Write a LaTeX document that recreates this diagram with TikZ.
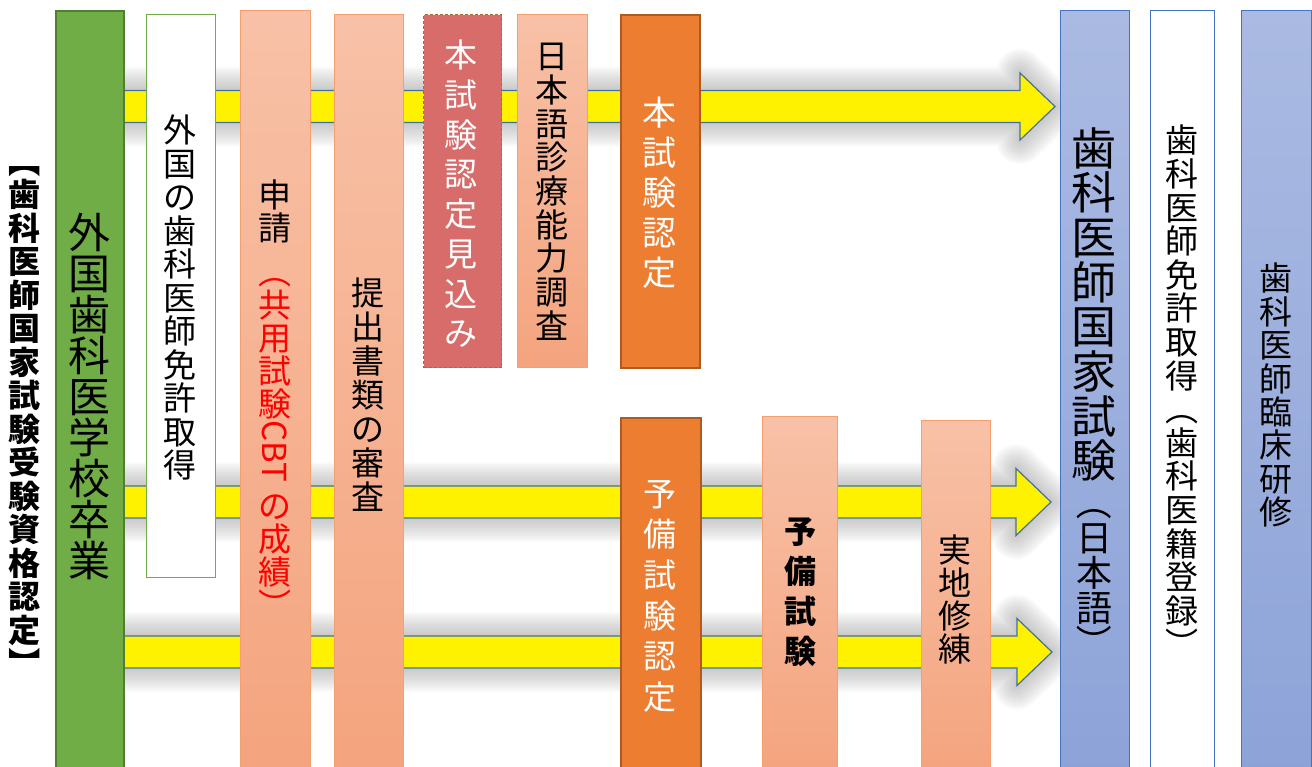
\documentclass[tikz,border=0pt]{standalone}
\usepackage{fontspec}
\newfontfamily\jp{Noto Sans CJK JP}
\usetikzlibrary{positioning,calc}

\definecolor{grnfill}{HTML}{70AD47}
\definecolor{grnline}{HTML}{507E32}
\definecolor{salmtop}{HTML}{F8C1A7}
\definecolor{salmbot}{HTML}{F4A47E}
\definecolor{salmline}{HTML}{F4A06E}
\definecolor{redfill}{HTML}{D86C6A}
\definecolor{redline}{HTML}{B5652F}
\definecolor{orfill}{HTML}{ED7D31}
\definecolor{orline}{HTML}{AE5A21}
\definecolor{bltop}{HTML}{AABAE2}
\definecolor{blbot}{HTML}{8DA3D8}
\definecolor{blline}{HTML}{4472C4}
\definecolor{arrline}{HTML}{41719C}

\newcommand{\vfont}[2]{\jp\fontsize{#1}{#2}\selectfont}
% bracket turned for vertical text
\newcommand{\vp}[1]{\rotatebox[origin=c]{-90}{#1}}
% block arrow from #1 to tip #2
\newcommand{\blockarrow}[2]{($(#1)+(0,-16)$) -- ($(#2)+(-35,-16)$) -- ($(#2)+(-35,-33.5)$)
  -- (#2) -- ($(#2)+(-35,33.5)$) -- ($(#2)+(-35,16)$) -- ($(#1)+(0,16)$) -- cycle}

\tikzset{
  box/.style={rectangle, inner sep=0, anchor=north west, line width=1.2},
  grnbox/.style={box, fill=grnfill, draw=grnline, line width=1.5},
  whtbox/.style={box, fill=white, draw=#1},
  salbox/.style={box, top color=salmtop, bottom color=salmbot, draw=salmline},
  redbox/.style={box, fill=redfill, draw=redline, dash pattern=on 3pt off 2pt},
  orbox/.style={box, fill=orfill, draw=orline, line width=1.5},
  blbox/.style={box, top color=bltop, bottom color=blbot, draw=blline},
  vt/.style={inner sep=0, anchor=north, align=center},
  yarrow/.style={fill=yellow, draw=arrline, line width=1.2, line join=miter},
  glow/.style={draw=gray, opacity=0.045, line join=round}
}

\begin{document}
\begin{tikzpicture}[x=1pt,y=-1pt]
\clip (0,0) rectangle (1312,766);

% arrows with soft shadow
\coordinate (a1s) at (89,106.5);
\coordinate (a1e) at (1055,106.5);
\coordinate (a2s) at (89,502);
\coordinate (a2e) at (1051,502);
\coordinate (a3s) at (89,652);
\coordinate (a3e) at (1052,652);
\foreach \w in {4,8,...,48}{
  \draw[glow, line width=\w] \blockarrow{a1s}{a1e};
  \draw[glow, line width=\w] \blockarrow{a2s}{a2e};
  \draw[glow, line width=\w] \blockarrow{a3s}{a3e};
}
\draw[yarrow] \blockarrow{a1s}{a1e};
\draw[yarrow] \blockarrow{a2s}{a2e};
\draw[yarrow] \blockarrow{a3s}{a3e};

% columns
\node[grnbox, minimum width=68, minimum height=765] (gradbox) at (55,10) {};
\node[whtbox=grnfill, minimum width=69, minimum height=563] (licbox) at (146,14) {};
\node[salbox, minimum width=70, minimum height=765] (appbox) at (240,10) {};
\node[salbox, minimum width=69, minimum height=761] (docbox) at (334,14) {};
\node[redbox, minimum width=78, minimum height=353] (expbox) at (423,14) {};
\node[salbox, minimum width=70, minimum height=353] (jltbox) at (517,14) {};
\node[orbox, minimum width=79, minimum height=353] (certbox) at (620,14) {};
\node[orbox, minimum width=80, minimum height=358] (pcertbox) at (620,417) {};
\node[salbox, minimum width=75, minimum height=359] (prelbox) at (762,416) {};
\node[salbox, minimum width=69, minimum height=355] (intbox) at (921,420) {};
\node[blbox, minimum width=69, minimum height=765] (natlbox) at (1060,10) {};
\node[whtbox=blline, minimum width=64, minimum height=765] (regbox) at (1150,10) {};
\node[blbox, minimum width=70, minimum height=765] (trainbox) at (1241,10) {};

% texts
\node[vt, font=\vfont{32}{33.5}\bfseries] (lab) at (25,145)
  {\vp{【}\\歯\\科\\医\\師\\国\\家\\試\\験\\受\\験\\資\\格\\認\\定\\\vp{】}};
\node[vt, font=\vfont{42}{41}] (grad) at (89,213) {外\\国\\歯\\科\\医\\学\\校\\卒\\業};
\node[vt, font=\vfont{33}{33.5}] (lic) at (180,115) {外\\国\\の\\歯\\科\\医\\師\\免\\許\\取\\得};
\node[vt, font=\vfont{33}{33}] (app) at (275,180) {申\\請};
\node[vt, font=\vfont{33}{33}, text=red, below=12pt of app] (cbt)
  {\vp{（}\\共\\用\\試\\験\\\vp{CBT}\\[12pt]の\\成\\績\\\vp{）}};
\node[vt, font=\vfont{33}{34}] (docs) at (368,278) {提\\出\\書\\類\\の\\審\\査};
\node[vt, font=\vfont{33}{39.7}, text=white] (exp) at (461,40) {本\\試\\験\\認\\定\\見\\込\\み};
\node[vt, font=\vfont{33}{33.7}] (jlt) at (552,43) {日\\本\\語\\診\\療\\能\\力\\調\\査};
\node[vt, font=\vfont{34}{40}, text=white] (cert) at (659,97) {本\\試\\験\\認\\定};
\node[vt, font=\vfont{33}{40.6}, text=white] (pcert) at (660,480) {予\\備\\試\\験\\認\\定};
\node[vt, font=\vfont{32}{40}\bfseries] (prel) at (800,517) {予\\備\\試\\験};
\node[vt, font=\vfont{33}{33}] (intr) at (955,535) {実\\地\\修\\練};
\node[vt, font=\vfont{45}{44.7}] (natl) at (1094,127) {歯\\科\\医\\師\\国\\家\\試\\験};
\node[vt, font=\vfont{36}{35}, below=3pt of natl] (natlj) {\vp{（}\\日\\本\\語\\\vp{）}};
\node[vt, font=\vfont{33}{33.6}] (reg) at (1182,125)
  {歯\\科\\医\\師\\免\\許\\取\\得\\\vp{（}\\歯\\科\\医\\籍\\登\\録\\\vp{）}};
\node[vt, font=\vfont{33}{33.4}] (train) at (1276,263) {歯\\科\\医\\師\\臨\\床\\研\\修};
\end{tikzpicture}
\end{document}
